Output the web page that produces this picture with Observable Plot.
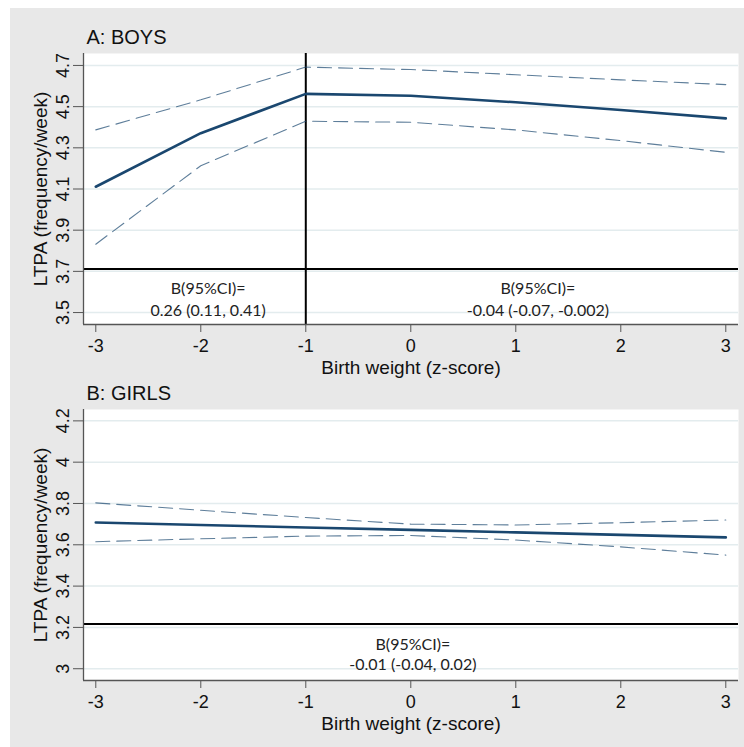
<!DOCTYPE html>
<html>
<head>
<meta charset="utf-8">
<script src="https://cdn.jsdelivr.net/npm/d3@7"></script>
<script src="https://cdn.jsdelivr.net/npm/@observablehq/plot@0.6"></script>
<style>
  html, body { margin: 0; padding: 0; background: white; }
  #page { position: relative; width: 744px; height: 747px; overflow: hidden; background: white; }
  #backdrop { position: absolute; left: 10px; top: 8px; right: 0; bottom: 0; background: #e8e8e8; }
  .panel { position: absolute; left: 0; }
</style>
</head>
<body>
<div id="page">
  <div id="backdrop"></div>
  <div id="boys" class="panel" style="top:0px"></div>
  <div id="girls" class="panel" style="top:380px"></div>
</div>
<script>
// Birth weight z-score positions at which the fitted curves are evaluated
const birthWeightZ = [-3, -2, -1, 0, 1, 2, 3];
const xTicks = [-3, -2, -1, 0, 1, 2, 3];

// Boys: fitted LTPA (frequency/week) with 95% confidence limits
const boysEstimate = [4.111, 4.371, 4.562, 4.553, 4.521, 4.484, 4.443];
const boysUpper    = [4.387, 4.533, 4.692, 4.680, 4.655, 4.630, 4.607];
const boysLower    = [3.832, 4.213, 4.429, 4.424, 4.387, 4.335, 4.278];
const boysYTicks   = [3.5, 3.7, 3.9, 4.1, 4.3, 4.5, 4.7];

// Girls: fitted LTPA (frequency/week) with 95% confidence limits
const girlsEstimate = [3.708, 3.696, 3.684, 3.672, 3.660, 3.648, 3.636];
const girlsUpper    = [3.803, 3.767, 3.732, 3.700, 3.696, 3.707, 3.720];
const girlsLower    = [3.615, 3.629, 3.642, 3.645, 3.623, 3.590, 3.550];
const girlsYTicks   = [3, 3.2, 3.4, 3.6, 3.8, 4, 4.2];

// Spline knot and slope annotations
const boysKnot = -1;
const boysNotes = [
  {x: -1.93, y: 3.57, text: "B(95%CI)=\n0.26 (0.11, 0.41)"},
  {x: 1.21, y: 3.57, text: "B(95%CI)=\n-0.04 (-0.07, -0.002)"}
];
const girlsNotes = [
  {x: 0.02, y: 3.074, text: "B(95%CI)=\n-0.01 (-0.04, 0.02)"}
];
const boysBaseline = 3.712;
const girlsBaseline = 3.216;

const xDomain = [-3.117, 3.121];
const navy = "#1a476f";
const axisFont = "Liberation Sans, Arial, sans-serif";
const noteFont = "Lato, 'Open Sans', sans-serif";

function series(values) {
  return birthWeightZ.map((x, i) => ({x, y: values[i]}));
}

function panel({title, estimate, upper, lower, yDomain, yTicks, baseline, knot, notes, height, marginTop, marginBottom, noteLineHeight}) {
  const marks = [
    Plot.frame({fill: "white", stroke: null}),
    Plot.gridY(yTicks, {stroke: "#e3ecee", strokeOpacity: 1, strokeWidth: 1.5}),
    Plot.ruleY([baseline], {stroke: "black", strokeWidth: 2}),
  ];
  if (knot !== undefined) marks.push(Plot.ruleX([knot], {stroke: "black", strokeWidth: 2}));
  marks.push(
    Plot.line(series(upper), {x: "x", y: "y", stroke: navy, strokeWidth: 1.1, strokeOpacity: 0.7, strokeDasharray: "14,7"}),
    Plot.line(series(lower), {x: "x", y: "y", stroke: navy, strokeWidth: 1.1, strokeOpacity: 0.7, strokeDasharray: "14,7"}),
    Plot.line(series(estimate), {x: "x", y: "y", stroke: navy, strokeWidth: 2.6}),
    Plot.text(notes, {x: "x", y: "y", text: "text", fontFamily: noteFont, fontSize: 16, fill: "#222", lineHeight: noteLineHeight, lineAnchor: "middle"}),
    Plot.ruleX([xDomain[0]], {stroke: "#555", strokeWidth: 1.3}),
    Plot.ruleY([yDomain[0]], {stroke: "#555", strokeWidth: 1.3}),
    Plot.axisX({ticks: xTicks, tickSize: 8, tickPadding: 7, stroke: "#555", fill: "#111", fontSize: 18, label: null, tickFormat: d => d < 0 ? "-" + Math.abs(d) : String(d)}),
    Plot.axisY({ticks: yTicks, tickSize: 10, tickPadding: 4.5, tickRotate: -90, stroke: "#555", fill: "#111", fontSize: 18, label: null, tickFormat: d => String(d)}),
    Plot.text([title], {frameAnchor: "top-left", dx: 3, dy: -16, textAnchor: "start", lineAnchor: "middle", fontSize: 20, fontFamily: axisFont, fill: "#111"}),
    Plot.text(["LTPA (frequency/week)"], {frameAnchor: "left", dx: -43, rotate: -90, textAnchor: "middle", lineAnchor: "middle", fontSize: 19, fontFamily: axisFont, fill: "#111"}),
    Plot.text(["Birth weight (z-score)"], {frameAnchor: "bottom", dy: 43, textAnchor: "middle", lineAnchor: "middle", fontSize: 19, fontFamily: axisFont, fill: "#111"})
  );
  return Plot.plot({
    width: 744,
    height,
    marginLeft: 83,
    marginRight: 6,
    marginTop,
    marginBottom,
    style: {background: "transparent", fontFamily: axisFont, fontSize: "18px", overflow: "visible"},
    x: {domain: xDomain},
    y: {domain: yDomain},
    marks
  });
}

document.getElementById("boys").append(panel({
  title: "A: BOYS",
  estimate: boysEstimate, upper: boysUpper, lower: boysLower,
  yDomain: [3.442, 4.758], yTicks: boysYTicks,
  baseline: boysBaseline, knot: boysKnot, notes: boysNotes,
  height: 380, marginTop: 53, marginBottom: 56, noteLineHeight: 1.35
}));

document.getElementById("girls").append(panel({
  title: "B: GIRLS",
  estimate: girlsEstimate, upper: girlsUpper, lower: girlsLower,
  yDomain: [2.943, 4.255], yTicks: girlsYTicks,
  baseline: girlsBaseline, notes: girlsNotes,
  height: 367, marginTop: 29, marginBottom: 67, noteLineHeight: 1.25
}));
</script>
</body>
</html>
